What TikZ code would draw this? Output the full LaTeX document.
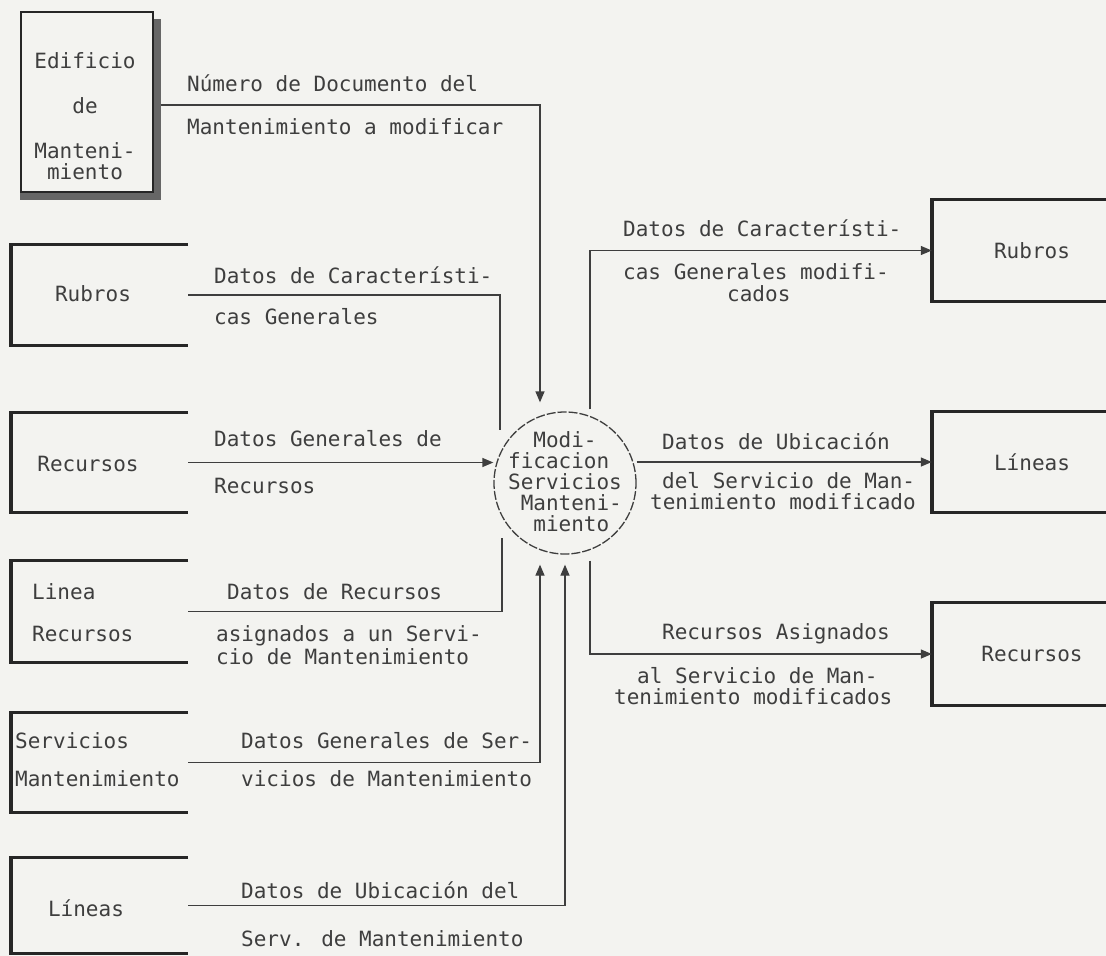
\documentclass[tikz,border=0pt]{standalone}
\usepackage{fontspec}
\newfontfamily\dm{DejaVu Sans Mono}
\usetikzlibrary{arrows.meta,calc}
\definecolor{paper}{RGB}{243,243,240}
\definecolor{ink}{RGB}{62,62,62}
\begin{document}
\begin{tikzpicture}[x=1pt,y=-1pt,
  every node/.style={font=\dm\fontsize{21}{21}\selectfont, text=ink, inner sep=0pt},
  txt/.style={anchor=base west},
  ctxt/.style={anchor=base},
  flow/.style={line width=1.3pt, draw=ink},
  arr/.style={flow, -{Triangle[length=11pt,width=9pt]}},
  storeline/.style={line width=3.2pt, draw=black!85},
  storeside/.style={line width=4.6pt, draw=black!85},
  slot/.style={rectangle, draw=none, minimum width=#1},
  proccircle/.style={circle, draw=ink, line width=1.3pt, minimum size=142pt, dash pattern=on 9pt off 2pt},
  edifbox/.style={rectangle, draw=black!85, line width=1.5pt, minimum width=132pt, minimum height=180pt}
]
\fill[paper] (0,0) rectangle (1106,956);
\useasboundingbox (0,0) rectangle (1106,956);

% ---------- external entity ----------
\node[edifbox] (edif) at (87,102) {};
\fill[black!60] ($(edif.north east)+(0,8)$) rectangle ($(edif.south east)+(7,7)$);
\fill[black!60] (edif.south west) rectangle ($(edif.south east)+(7,7)$);
\node[ctxt] (edif1) at (85,68) {Edificio};
\node[ctxt] (edif2) at (85,113) {de};
\node[ctxt] (edif3) at (85,158) {Manteni-};
\node[ctxt] (edif4) at (85,179) {miento};

% ---------- left stores ----------
\node[slot=177pt, minimum height=100pt] (rubL) at (99.5,295) {};
\node[slot=177pt, minimum height=99pt]  (recL) at (99.5,462.5) {};
\node[slot=177pt, minimum height=101pt] (linL) at (99.5,611.5) {};
\node[slot=177pt, minimum height=99pt]  (serL) at (99.5,762.5) {};
\node[slot=177pt, minimum height=95pt]  (lnsL) at (99.5,905.5) {};
\foreach \n in {rubL,recL,linL,serL,lnsL}{
  \draw[storeline] (\n.north east) -- (\n.north west) (\n.south west) -- (\n.south east);
  \draw[storeside] ([yshift=1.6pt]\n.north west) -- ([yshift=-1.6pt]\n.south west);
}
\node[ctxt] (rubLt) at (93,301) {Rubros};
\node[ctxt] (recLt) at (88,471) {Recursos};
\node[txt] (linLt1) at (32,599) {Linea};
\node[txt] (linLt2) at (32,641) {Recursos};
\node[txt] (serLt1) at (15,748) {Servicios};
\node[txt] (serLt2) at (15,786) {Mantenimiento};
\node[ctxt] (lnsLt) at (86,916) {Líneas};

% ---------- right stores ----------
\node[slot=200pt, minimum height=101pt] (rubR) at (1032,250.5) {Rubros};
\node[slot=200pt, minimum height=100pt] (lnsR) at (1032,462) {Líneas};
\node[slot=200pt, minimum height=102pt] (recR) at (1032,654) {Recursos};
\foreach \n in {rubR,lnsR,recR}{
  \draw[storeline] (\n.north east) -- (\n.north west) (\n.south west) -- (\n.south east);
  \draw[storeside] ([yshift=1.6pt]\n.north west) -- ([yshift=-1.6pt]\n.south west);
}

% ---------- process ----------
\node[proccircle] (proc) at (565,483) {};
\node[align=left] (proct) at (565,482) {\phantom{fi}Modi-\\ficacion\\Servicios\\\phantom{S}Manteni-\\\phantom{fi}miento};

% ---------- connectors ----------
\coordinate (e1) at (500,430);
\coordinate (e2) at (502,538);
\draw[arr] ([xshift=7pt,yshift=-3pt]edif.east) -| ([xshift=-25pt,yshift=9pt]proc.north);
\draw[flow] (rubL.east) -| (e1);
\draw[arr] (recL.east) -- (recL.east -| proc.west);
\draw[flow] (linL.east) -| (e2);
\draw[arr] (serL.east) -| ([xshift=-25pt,yshift=-10pt]proc.south);
\draw[arr] (lnsL.east) -| ([yshift=-10pt]proc.south);
\draw[arr] ([xshift=25pt,yshift=2pt]proc.north) |- (rubR.west);
\draw[arr] (lnsR.west -| proc.east) -- (lnsR.west);
\draw[arr] ([xshift=25pt,yshift=-6pt]proc.south) |- (recR.west);

% ---------- flow labels ----------
\node[txt] (l1a) at (187,91) {Número de Documento del};
\node[txt] (l1b) at (187,134) {Mantenimiento a modificar};
\node[txt] (l2a) at (214,283) {Datos de Característi-};
\node[txt] (l2b) at (214,324) {cas Generales};
\node[txt] (l3a) at (214,446) {Datos Generales de};
\node[txt] (l3b) at (214,493) {Recursos};
\node[txt] (l4a) at (227,599) {Datos de Recursos};
\node[txt] (l4b) at (216,641) {asignados a un Servi-};
\node[txt] (l4c) at (216,664) {cio de Mantenimiento};
\node[txt] (l5a) at (241,748) {Datos Generales de Ser-};
\node[txt] (l5b) at (241,786) {vicios de Mantenimiento};
\node[txt] (l6a) at (241,898) {Datos de Ubicación del};
\node[txt] (l6b) at (241,946) {Serv. de Mantenimiento};
\node[txt] (r1a) at (623,236) {Datos de Característi-};
\node[txt] (r1b) at (623,279) {cas Generales modifi-};
\node[txt] (r1c) at (727,301) {cados};
\node[txt] (r2a) at (662,449) {Datos de Ubicación};
\node[txt] (r2b) at (662,488) {del Servicio de Man-};
\node[txt] (r2c) at (650,509) {tenimiento modificado};
\node[txt] (r3a) at (662,639) {Recursos Asignados};
\node[txt] (r3b) at (637,683) {al Servicio de Man-};
\node[txt] (r3c) at (614,704) {tenimiento modificados};
\end{tikzpicture}
\end{document}
